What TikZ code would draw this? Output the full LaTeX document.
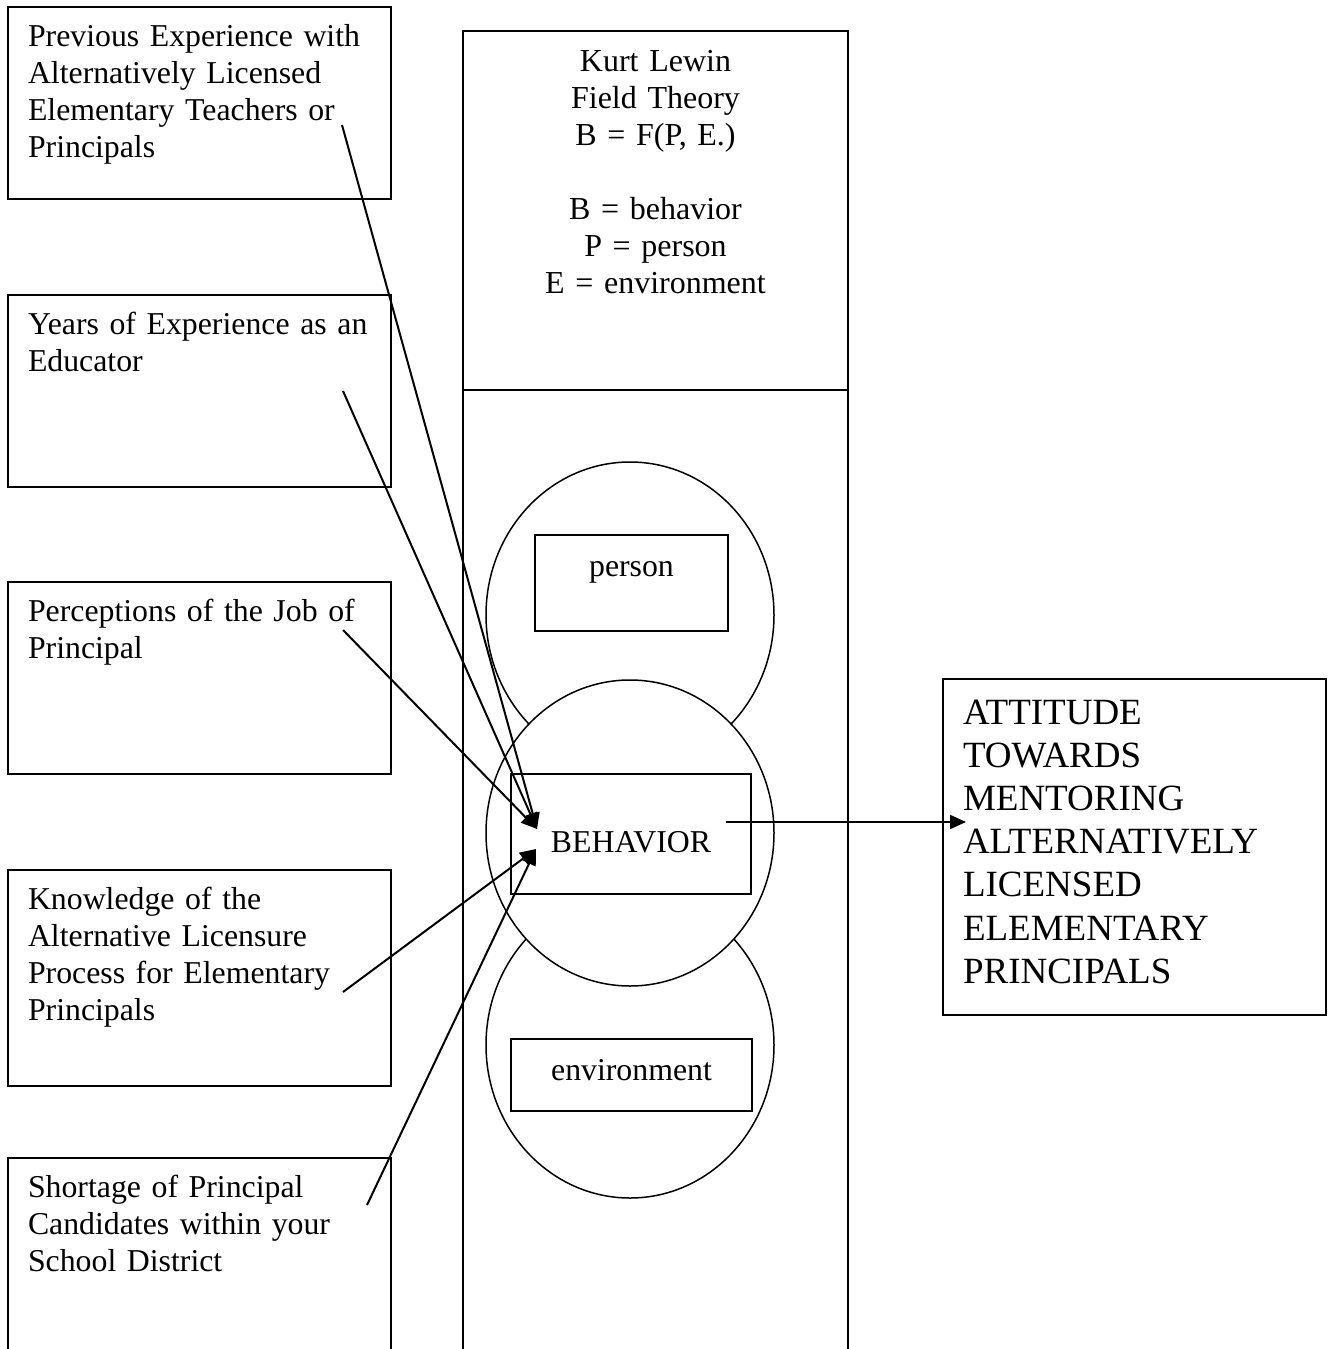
\documentclass[tikz,border=0pt]{standalone}
\usepackage{fontspec}
\setmainfont{Liberation Serif}[WordSpace=0.8]
\usetikzlibrary{arrows.meta,shapes.geometric,positioning}

\newcommand{\factorfont}{\fontsize{31.8}{37.3}\selectfont}
\newcommand{\outcomefont}{\fontsize{37}{43.2}\selectfont}

\begin{document}
\begin{tikzpicture}
    [x=1pt, y=-1pt, >={Triangle[length=16pt,width=14pt]},
    factor/.style={draw, line width=2pt, anchor=north west, text width=343pt,
      align=left, inner xsep=20pt, inner ysep=0pt, text height=39pt, font=\factorfont},
    field/.style={draw, line width=2pt, anchor=north west, minimum width=385pt, inner sep=0pt},
    region/.style={ellipse, draw, line width=1.5pt, fill=white,
      minimum width=288pt, minimum height=306pt, inner sep=0pt},
    part/.style={draw, line width=2pt, anchor=north west, inner sep=0pt, font=\factorfont},
    link/.style={->, line width=2pt}]

  \useasboundingbox (0,0) rectangle (1330,1349);
  \clip (0,0) rectangle (1330,1349);

  % factors on the left
  \node[factor, text depth=153pt] (prev) at (7,6)
    {Previous Experience with\\ Alternatively Licensed\\ Elementary Teachers or\\ Principals};
  \node[factor, text depth=153pt] (years) at (7,294)
    {Years of Experience as an\\ Educator};
  \node[factor, text depth=153pt] (job) at (7,581)
    {Perceptions of the Job of\\ Principal};
  \node[factor, text depth=177pt] (know) at (7,869)
    {Knowledge of the\\ Alternative Licensure\\ Process for Elementary\\ Principals};
  \node[factor, text depth=164pt] (short) at (7,1157)
    {Shortage of Principal\\ Candidates within your\\ School District};

  % field theory column
  \node[field, text width=345pt, inner xsep=20pt, align=center, font=\fontsize{32}{37}\selectfont,
    text height=40pt, text depth=319pt] (lewin) at (462,30)
    {Kurt Lewin\\ Field Theory\\ B = F(P, E.)\\[37pt] B = behavior\\ P = person\\ E = environment};
  \node[field, minimum height=971pt] (field) at (462,389) {};

  \node[region] (pc) at (630,615) {};
  \node[region] (ec) at (630,1045) {};
  \node[region] (bc) at (630,833) {};

  \node[part, minimum width=193pt, text height=41pt, text depth=55pt] (person) at (534,534) {person};
  \node[part, minimum width=240pt, text height=78pt, text depth=42pt] (behavior) at (510,773) {BEHAVIOR};
  \node[part, minimum width=241pt, text height=41pt, text depth=31pt] (env) at (510,1038) {environment};

  % outcome
  \node[factor, text depth=291pt, text height=45pt, font=\outcomefont] (attitude) at (942,678)
    {ATTITUDE\\ TOWARDS\\ MENTORING\\ ALTERNATIVELY\\ LICENSED\\ ELEMENTARY\\ PRINCIPALS};

  \coordinate (prev tail) at (342,125);
  \coordinate (years tail) at (343,391);
  \coordinate (job tail) at (343,630);
  \coordinate (know tail) at (343,992);
  \coordinate (short tail) at (367,1205);
  \coordinate (bhv in) at (537,829);
  \coordinate (bhv in2) at (536,849);
  \coordinate (bhv out) at (726,822);
  \coordinate (att in) at (966,822);

  \draw[link] (prev tail) -- (bhv in);
  \draw[link] (years tail) -- (bhv in);
  \draw[link] (job tail) -- (bhv in);
  \draw[link] (know tail) -- (bhv in2);
  \draw[link] (short tail) -- (bhv in2);
  \draw[link] (bhv out) -- (att in);

\end{tikzpicture}
\end{document}
